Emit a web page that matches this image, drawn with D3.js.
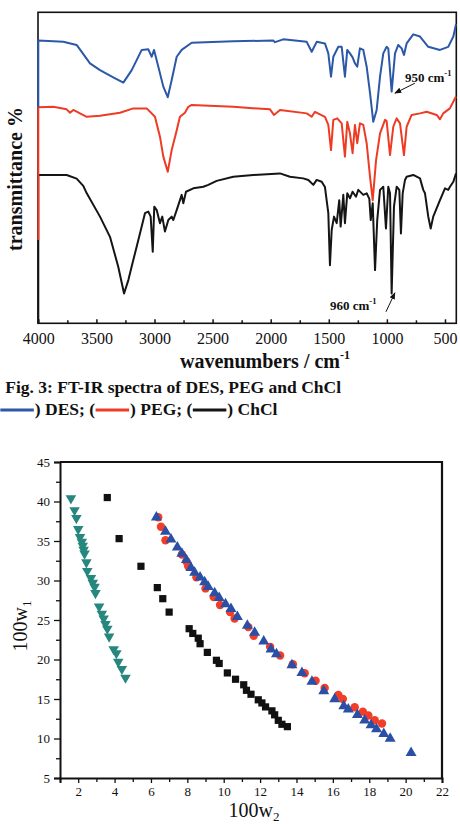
<!DOCTYPE html>
<html>
<head>
<meta charset="utf-8">
<script src="https://cdn.jsdelivr.net/npm/d3@7"></script>
<style>
  body { margin: 0; background: #fff; }
  svg { display: block; }
  text { font-family: "Liberation Serif", "Times New Roman", serif; fill: #111; }
</style>
</head>
<body>
<svg id="chart" width="460" height="824"></svg>
<script>
// ---- FT-IR spectra, [wavenumber, transmittance (arb. %)] ----
const desSpectrum = [[4000,69.5],[4000,90.9],[3785,90.5],[3670,89.5],[3555,83.6],[3469,81.4],[3355,79.1],[3268,77.4],[3196,81.4],[3110,87.9],[3053,88.1],[3024,85.7],[3004,87.9],[2967,82.5],[2924,76.1],[2886,72.7],[2852,78.2],[2809,85.7],[2766,87.9],[2680,90.2],[2322,90.7],[1978,90.9],[1963,90.4],[1892,91.3],[1690,90.5],[1647,87.3],[1604,90.5],[1533,90.0],[1504,86.8],[1481,79.3],[1461,85.7],[1418,88.9],[1389,88.9],[1361,79.3],[1341,87.9],[1318,86.8],[1295,85.5],[1275,83.6],[1255,82.5],[1232,88.4],[1203,87.9],[1174,82.5],[1145,74.0],[1117,64.8],[1088,68.6],[1059,79.3],[1031,86.8],[1002,88.9],[988,88.4],[959,74.5],[930,86.8],[902,89.5],[873,88.4],[853,86.3],[830,90.0],[773,92.9],[715,92.2],[644,88.9],[543,87.9],[472,88.9],[428,92.2],[405,96.2]];
const pegSpectrum = [[4000,26.8],[4000,69.5],[3871,69.6],[3756,68.8],[3727,67.7],[3699,68.6],[3583,66.4],[3469,66.7],[3297,67.7],[3182,69.1],[3067,69.1],[2996,66.4],[2953,60.0],[2924,53.6],[2886,48.7],[2852,55.7],[2815,61.1],[2781,66.4],[2738,67.7],[2709,69.6],[2680,70.2],[2322,69.6],[2006,68.8],[1972,67.0],[1920,68.6],[1690,67.5],[1647,66.4],[1619,68.0],[1533,66.4],[1504,63.8],[1481,55.7],[1461,65.4],[1427,65.9],[1389,64.3],[1361,53.6],[1341,64.8],[1318,61.1],[1295,54.7],[1275,63.8],[1255,57.9],[1232,64.3],[1203,63.8],[1174,57.9],[1145,47.1],[1122,39.6],[1093,52.5],[1059,61.1],[1016,65.4],[1002,65.0],[973,54.1],[945,63.2],[916,65.9],[887,64.3],[853,54.1],[830,63.2],[787,67.0],[715,67.5],[658,68.0],[571,67.0],[543,65.6],[515,67.5],[458,69.1],[405,72.9]];
const chclSpectrum = [[4000,0],[4000,47.7],[3756,47.7],[3670,46.5],[3613,44.2],[3583,41.8],[3469,34.3],[3383,27.8],[3312,18.2],[3262,9.6],[3225,13.9],[3182,20.4],[3125,28.9],[3082,35.4],[3053,35.9],[3033,34.3],[3015,23.0],[3002,37.5],[2981,36.4],[2953,32.2],[2933,34.3],[2910,29.5],[2881,33.2],[2852,34.3],[2838,33.2],[2809,36.4],[2766,41.3],[2752,38.6],[2729,42.3],[2666,43.4],[2580,43.9],[2537,44.5],[2465,45.8],[2322,47.1],[2150,47.7],[1920,48.2],[1834,47.1],[1720,46.6],[1676,46.1],[1633,44.5],[1604,46.1],[1561,45.5],[1533,43.8],[1504,35.4],[1490,18.7],[1475,30.0],[1455,34.3],[1432,32.2],[1410,39.6],[1398,31.1],[1375,41.3],[1361,32.2],[1341,41.8],[1318,40.2],[1295,42.3],[1266,40.7],[1246,42.9],[1203,41.3],[1174,41.8],[1151,40.0],[1139,33.2],[1122,38.6],[1102,17.1],[1083,33.2],[1059,42.9],[1031,43.9],[1008,30.5],[988,43.9],[973,41.8],[959,9.6],[939,37.5],[916,43.9],[893,42.9],[879,28.9],[864,41.8],[844,46.1],[830,47.1],[773,47.7],[715,46.6],[687,42.9],[672,41.8],[644,34.3],[623,30.5],[601,34.3],[543,39.6],[500,43.4],[472,42.9],[457,43.9],[428,45.5],[405,48.2]];
const irMajorTicks = [4000, 3500, 3000, 2500, 2000, 1500, 1000, 500];
const irMinorTicks = [3750, 3250, 2750, 2250, 1750, 1250, 750];
const legendNames = ["DES", "PEG", "ChCl"];

// ---- Solubility data, [100w2, 100w1] ----
const greenSeries = [[1.6,40.4],[1.8,38.9],[1.9,37.9],[2.0,36.5],[2.1,35.5],[2.2,34.9],[2.25,34.4],[2.3,33.9],[2.35,33.4],[2.45,32.3],[2.5,31.2],[2.7,30.3],[2.8,29.7],[2.9,29.2],[2.95,28.4],[3.15,26.7],[3.3,25.8],[3.4,25.2],[3.5,24.5],[3.6,23.9],[3.7,22.9],[3.95,21.3],[4.1,20.8],[4.2,19.7],[4.4,18.8],[4.6,17.7]];
const blackSeries = [[3.6,40.5],[4.25,35.3],[5.45,31.8],[6.35,29.1],[6.65,27.7],[7.0,26.0],[8.1,23.9],[8.3,23.3],[8.6,22.7],[8.7,22.0],[9.1,20.9],[9.6,19.9],[9.75,19.5],[10.2,18.3],[10.65,17.5],[11.1,16.8],[11.25,16.1],[11.5,15.6],[11.9,14.9],[12.1,14.5],[12.3,14.0],[12.65,13.5],[12.8,13.0],[13.0,12.3],[13.2,11.8],[13.5,11.5]];
const redSeries = [[6.4,38.0],[6.55,36.8],[6.8,35.1],[7.7,33.3],[7.95,32.4],[8.05,31.8],[8.5,30.4],[9.0,29.0],[9.45,27.9],[9.8,26.9],[10.35,26.0],[10.6,25.2],[11.35,24.1],[11.65,23.0],[12.55,21.6],[13.1,20.5],[13.8,19.4],[14.45,18.25],[15.05,17.3],[15.55,16.4],[16.3,15.5],[16.55,15.0],[17.2,13.95],[17.65,13.4],[17.95,12.9],[18.3,12.3],[18.7,11.9]];
const blueSeries = [[6.3,38.0],[6.8,36.2],[7.1,35.2],[7.45,34.2],[7.7,33.4],[7.95,32.6],[8.2,31.6],[8.4,31.0],[8.7,30.4],[8.95,29.8],[9.15,29.2],[9.5,28.4],[9.75,27.8],[10.1,27.0],[10.4,26.4],[10.75,25.4],[11.3,24.3],[11.7,23.4],[12.2,22.3],[12.6,21.3],[12.9,20.7],[13.75,19.3],[14.3,18.3],[14.85,17.2],[15.5,16.0],[16.1,15.0],[16.6,14.1],[16.85,13.7],[17.35,13.0],[17.75,12.3],[18.1,11.7],[18.4,11.2],[18.8,10.6],[19.15,10.0],[20.3,8.2]];
const xTicks = [2, 4, 6, 8, 10, 12, 14, 16, 18, 20, 22];
const yTicks = [5, 10, 15, 20, 25, 30, 35, 40, 45];

const svg = d3.select("#chart");

// ================= FT-IR panel =================
const irX = d3.scaleLinear().domain([4000, 400]).range([38.3, 456.6]);
const irY = d3.scaleLinear().domain([0, 100]).range([323.3, 12.3]);
const ir = svg.append("g");

ir.append("rect")
    .attr("x", 38).attr("y", 12.3).attr("width", 418.3).attr("height", 311)
    .attr("fill", "none").attr("stroke", "#111").attr("stroke-width", 1.6);

const irAxis = ir.append("g").attr("transform", "translate(0,323.3)")
    .call(d3.axisBottom(irX).tickValues(irMajorTicks).tickSize(-4).tickPadding(9).tickFormat(d3.format("d")));
irAxis.select(".domain").remove();
irAxis.selectAll("line").attr("stroke", "#111").attr("stroke-width", 1.5);
irAxis.selectAll("text").attr("font-size", 16).attr("font-family", "Liberation Serif").attr("fill", "#111");
ir.append("g").attr("transform", "translate(0,323.3)")
    .call(d3.axisBottom(irX).tickValues(irMinorTicks).tickSize(-3).tickFormat(""))
    .call(g => g.select(".domain").remove())
    .selectAll("line").attr("stroke", "#111").attr("stroke-width", 1.5);

const irLine = d3.line().x(d => irX(d[0])).y(d => irY(d[1]));
const spectra = [
    { data: chclSpectrum, color: "#151515" },
    { data: pegSpectrum, color: "#ee3b24" },
    { data: desSpectrum, color: "#2c58a8" }
];
spectra.forEach(s => {
    ir.append("path").datum(s.data)
        .attr("fill", "none").attr("stroke", s.color).attr("stroke-width", 2)
        .attr("stroke-linejoin", "round").attr("d", irLine);
});

// peak annotations
svg.append("defs").append("marker")
    .attr("id", "arrow").attr("viewBox", "0 0 10 10").attr("refX", 9).attr("refY", 5)
    .attr("markerWidth", 7).attr("markerHeight", 7).attr("orient", "auto")
    .append("path").attr("d", "M0,1 L10,5 L0,9 Z").attr("fill", "#111");

const irNotes = [
    { label: "950", at: [844, 77.6], from: [759, 77.2], to: [931, 74.0] },
    { label: "960", at: [1490, 4.3], from: [1008, 3.7], to: [931, 9.8] }
];
irNotes.forEach(n => {
    const t = ir.append("text").attr("x", irX(n.at[0])).attr("y", irY(n.at[1]))
        .attr("font-size", 13).attr("font-weight", "bold");
    t.append("tspan").text(n.label + " cm");
    t.append("tspan").attr("dy", -6).attr("font-size", 8.5).text("-1");
    ir.append("line")
        .attr("x1", irX(n.from[0])).attr("y1", irY(n.from[1]))
        .attr("x2", irX(n.to[0])).attr("y2", irY(n.to[1]))
        .attr("stroke", "#111").attr("stroke-width", 1).attr("marker-end", "url(#arrow)");
});

// axis titles
const xt = ir.append("text").attr("x", 180).attr("y", 368).attr("font-size", 20).attr("font-weight", "bold");
xt.append("tspan").text("wavenumbers / cm");
xt.append("tspan").attr("dy", -9).attr("font-size", 12).text("-1");

ir.append("text").attr("transform", "translate(22,179) rotate(-90)")
    .attr("text-anchor", "middle").attr("font-size", 20).attr("font-weight", "bold")
    .text("transmittance %");

// caption
svg.append("text").attr("x", 341).attr("y", 393).attr("text-anchor", "end")
    .attr("font-size", 17.5).attr("font-weight", "bold")
    .text("Fig. 3: FT-IR spectra of DES, PEG and ChCl");

const cap = svg.append("g").attr("font-size", 17.5).attr("font-weight", "bold");
let cx = -6;
function capText(str) {
    const t = cap.append("text").attr("x", cx).attr("y", 415).text(str);
    cx += t.node().getComputedTextLength();
}
capText("(");
spectra.slice().reverse().forEach((s, i) => {
    cap.append("line").attr("x1", cx + 0.5).attr("x2", cx + 34).attr("y1", 410).attr("y2", 410)
        .attr("stroke", s.color).attr("stroke-width", 3);
    cx += 35;
    capText(") " + legendNames[i] + (i < 2 ? "; (" : ""));
});

// ================= Solubility panel =================
const sx = d3.scaleLinear().domain([1, 22]).range([60, 442]);
const sy = d3.scaleLinear().domain([5, 45]).range([778, 462]);
const sp = svg.append("g");

sp.append("g").attr("transform", "translate(60,0)")
    .call(d3.axisLeft(sy).tickValues(yTicks).tickSize(6).tickPadding(4));
sp.append("g").attr("transform", "translate(60,0)")
    .call(d3.axisLeft(sy).tickValues(d3.range(7.5, 45, 5)).tickSize(4).tickFormat(""))
    .call(g => g.select(".domain").remove());
sp.append("g").attr("transform", "translate(0,778)")
    .call(d3.axisBottom(sx).tickValues(xTicks).tickSize(5).tickPadding(4));
sp.append("g").attr("transform", "translate(0,778)")
    .call(d3.axisBottom(sx).tickValues(d3.range(1, 22, 2)).tickSize(4).tickFormat(""))
    .call(g => g.select(".domain").remove());
sp.selectAll(".domain").attr("stroke", "#111").attr("stroke-width", 2);
sp.selectAll(".tick line").attr("stroke", "#111").attr("stroke-width", 1.3);
sp.selectAll(".tick text").attr("font-size", 13).attr("font-family", "Liberation Serif").attr("fill", "#222");

// top and right frame
sp.append("path")
    .attr("d", `M${sx(1)},${sy(45)} H${sx(22)} V${sy(5)}`)
    .attr("fill", "none").attr("stroke", "#111").attr("stroke-width", 2.2);

const series = [
    { data: greenSeries, color: "#26877e", type: d3.symbolTriangle, size: 48, rot: 180 },
    { data: blackSeries, color: "#111111", type: d3.symbolSquare, size: 52, rot: 0 },
    { data: redSeries, color: "#f23d28", type: d3.symbolCircle, size: 56, rot: 0 },
    { data: blueSeries, color: "#2a4fa5", type: d3.symbolTriangle, size: 52, rot: 0 }
];
series.forEach(s => {
    sp.append("g").selectAll("path").data(s.data).join("path")
        .attr("d", d3.symbol().type(s.type).size(s.size))
        .attr("transform", d => `translate(${sx(d[0])},${sy(d[1])}) rotate(${s.rot})`)
        .attr("fill", s.color);
});

// axis titles
const xl = sp.append("text").attr("x", 254).attr("y", 817).attr("text-anchor", "middle").attr("font-size", 20);
xl.append("tspan").text("100w");
xl.append("tspan").attr("dy", 4).attr("font-size", 13).text("2");

const yl = sp.append("text").attr("transform", "translate(27,626) rotate(-90)")
    .attr("text-anchor", "middle").attr("font-size", 20);
yl.append("tspan").text("100w");
yl.append("tspan").attr("dy", 4).attr("font-size", 13).text("1");
</script>
</body>
</html>
